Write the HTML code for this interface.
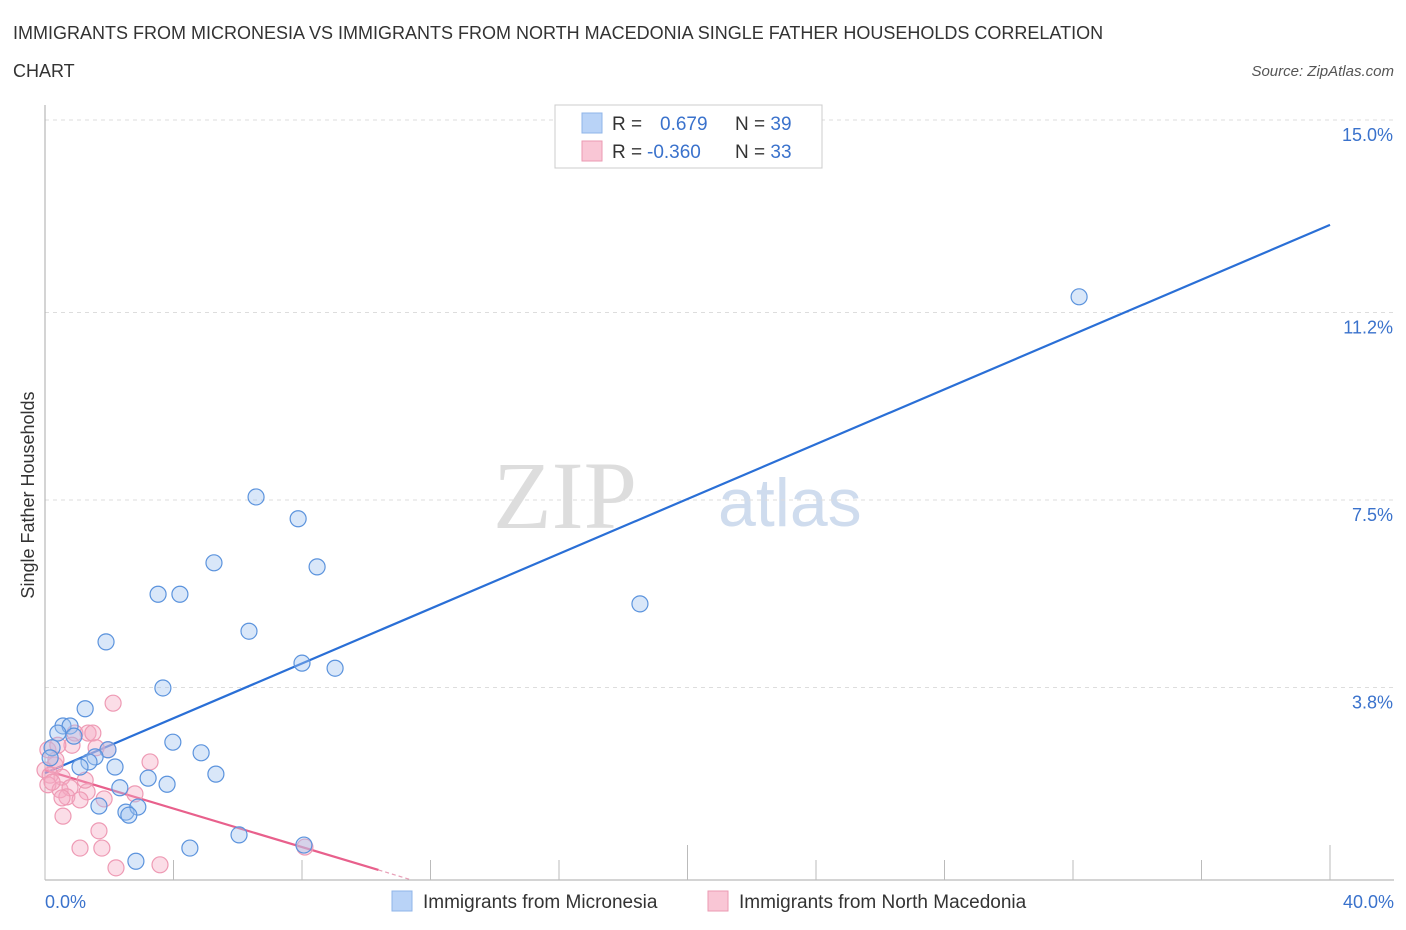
<!DOCTYPE html>
<html><head><meta charset="utf-8"><style>
body{margin:0;background:#fff;font-family:"Liberation Sans",sans-serif;}
svg{display:block}
</style></head><body>
<svg id="chart" width="1406" height="930">
<text x="13" y="39" font-size="18" fill="#333">IMMIGRANTS FROM MICRONESIA VS IMMIGRANTS FROM NORTH MACEDONIA SINGLE FATHER HOUSEHOLDS CORRELATION</text>
<text x="13" y="77" font-size="18" fill="#333">CHART</text>
<text x="1394" y="76" font-size="15" fill="#555" font-style="italic" text-anchor="end">Source: ZipAtlas.com</text>
<text x="637" y="528" font-size="96" fill="#ddd" font-family="Liberation Serif,serif" text-anchor="end">ZIP</text>
<text x="718" y="526" font-size="68" fill="#cfdcee">atlas</text>
<text transform="translate(34,495) rotate(-90)" font-size="18" fill="#333" text-anchor="middle">Single Father Households</text>
<g id="grid"></g><g id="axes"></g><g id="trend"></g><g id="pts"></g>
<g>
<rect x="555" y="105" width="267" height="63" fill="#fff" stroke="#ccc"/>
<rect x="582" y="113" width="20" height="20" fill="#b9d3f7" stroke="#8fb4e8"/>
<rect x="582" y="141" width="20" height="20" fill="#f9c6d5" stroke="#eb9ab2"/>
<text x="612" y="130" font-size="19" fill="#333">R = <tspan x="660" fill="#3a72cc">0.679</tspan><tspan x="735" fill="#333">N = </tspan><tspan fill="#3a72cc">39</tspan></text>
<text x="612" y="158" font-size="19" fill="#333">R = <tspan x="647" fill="#3a72cc">-0.360</tspan><tspan x="735" fill="#333">N = </tspan><tspan fill="#3a72cc">33</tspan></text>
</g>
<g>
<rect x="392" y="891" width="20" height="20" fill="#b9d3f7" stroke="#8fb4e8"/>
<text x="423" y="908" font-size="19" fill="#333">Immigrants from Micronesia</text>
<rect x="708" y="891" width="20" height="20" fill="#f9c6d5" stroke="#eb9ab2"/>
<text x="739" y="908" font-size="19" fill="#333">Immigrants from North Macedonia</text>
</g>
</svg>
<script>
const yTicks=[15.0,11.2,7.5,3.8];
const yTickLabels=["15.0%","11.2%","7.5%","3.8%"];
const xTickLabels=["0.0%","40.0%"];
const blueX=[32.19,18.52,6.57,7.88,5.26,8.47,3.52,4.20,6.35,1.90,8.00,9.03,3.67,1.25,0.56,0.78,0.40,0.90,0.22,1.96,1.56,1.37,3.98,4.86,2.18,1.09,0.16,3.21,5.32,2.33,3.80,1.68,2.52,2.89,2.61,6.04,8.06,4.51,2.83];
const blueY=[11.51,5.45,7.56,7.13,6.26,6.18,5.64,5.64,4.91,4.70,4.28,4.18,3.79,3.38,3.04,3.04,2.90,2.84,2.61,2.57,2.43,2.33,2.72,2.51,2.23,2.23,2.41,2.01,2.09,1.82,1.89,1.46,1.34,1.44,1.28,0.89,0.69,0.63,0.37];
const pinkX=[2.12,0.93,1.34,1.49,0.84,0.09,0.40,1.96,3.27,0.31,0,0.16,0.53,0.09,0.47,0.78,1.31,2.80,0.68,0.53,1.09,1.84,0.56,1.68,1.09,1.77,3.58,2.21,8.09,0.22,1.25,0.34,1.59];
const pinkY=[3.49,2.90,2.90,2.90,2.66,2.57,2.66,2.57,2.33,2.27,2.17,2.07,2.03,1.88,1.78,1.82,1.74,1.70,1.64,1.62,1.58,1.60,1.26,0.97,0.63,0.63,0.30,0.24,0.65,1.93,1.97,2.37,2.61];
const blueTrend=[2.11,12.93]; // y at x=0 and x=40
const pinkTrend=[2.17,-0.190]; // intercept, slope
const pinkSolidEnd=10.38, pinkDashEnd=11.4;

const X0=45,X1=1330,Y0=880,Y15=120;
const sx=v=>X0+(v/40)*(X1-X0);
const sy=v=>Y0-(v/15)*(Y0-Y15);
const NS="http://www.w3.org/2000/svg";
function mk(tag,attrs,parent){const e=document.createElementNS(NS,tag);for(const k in attrs)e.setAttribute(k,attrs[k]);parent.appendChild(e);return e;}
const grid=document.getElementById('grid'),axes=document.getElementById('axes'),trend=document.getElementById('trend'),pts=document.getElementById('pts');
yTicks.forEach((t,i)=>{
 const l=mk('line',{x1:X0,x2:X1+64,y1:sy(t),y2:sy(t),stroke:'#ddd','stroke-dasharray':'4,4'},grid);
 
 
 const tx=mk('text',{x:1393,y:sy(t)+21,'font-size':18,fill:'#3a72cc','text-anchor':'end'},grid);
 tx.textContent=yTickLabels[i];
 
 
});
const ya=mk('line',{x1:X0,x2:X0,y1:105,y2:Y0,stroke:'#aaa'},axes);


const xa=mk('line',{x1:X0,x2:1394,y1:Y0,y2:Y0,stroke:'#aaa'},axes);


for(let i=0;i<=10;i++){
 const v=i*4;const tall=(i==5||i==10);
 const t=mk('line',{x1:sx(v),x2:sx(v),y1:tall?845:860,y2:Y0,stroke:'#bbb'},axes);
 
 
}
[[0,'start',45],[40,'end',1394]].forEach((d,i)=>{
 const tx=mk('text',{x:d[2],y:908,'font-size':18,fill:'#3a72cc','text-anchor':d[1]},axes);
 tx.textContent=xTickLabels[i];
 
 
});
const bl=mk('line',{x1:sx(0),y1:sy(blueTrend[0]),x2:sx(40),y2:sy(blueTrend[1]),stroke:'#2a6fd6','stroke-width':2.2},trend);


const py=x=>pinkTrend[0]+pinkTrend[1]*x;
const pl=mk('line',{x1:sx(0),y1:sy(py(0)),x2:sx(pinkSolidEnd),y2:sy(py(pinkSolidEnd)),stroke:'#e8608c','stroke-width':2.2},trend);


const pd=mk('line',{x1:sx(pinkSolidEnd),y1:sy(py(pinkSolidEnd)),x2:sx(pinkDashEnd),y2:sy(Math.max(0,py(pinkDashEnd))),stroke:'#e8a0b8','stroke-width':1.2,'stroke-dasharray':'4,3'},trend);


pinkX.forEach((x,i)=>{
 const c=mk('circle',{cx:sx(x),cy:sy(pinkY[i]),r:8,fill:'rgba(246,170,195,0.4)',stroke:'#ee9ab4','stroke-width':1.2},pts);
 
 
});
blueX.forEach((x,i)=>{
 const c=mk('circle',{cx:sx(x),cy:sy(blueY[i]),r:8,fill:'rgba(160,195,240,0.4)',stroke:'#5b93dd','stroke-width':1.2},pts);
 
 
});
</script>
</body></html>
